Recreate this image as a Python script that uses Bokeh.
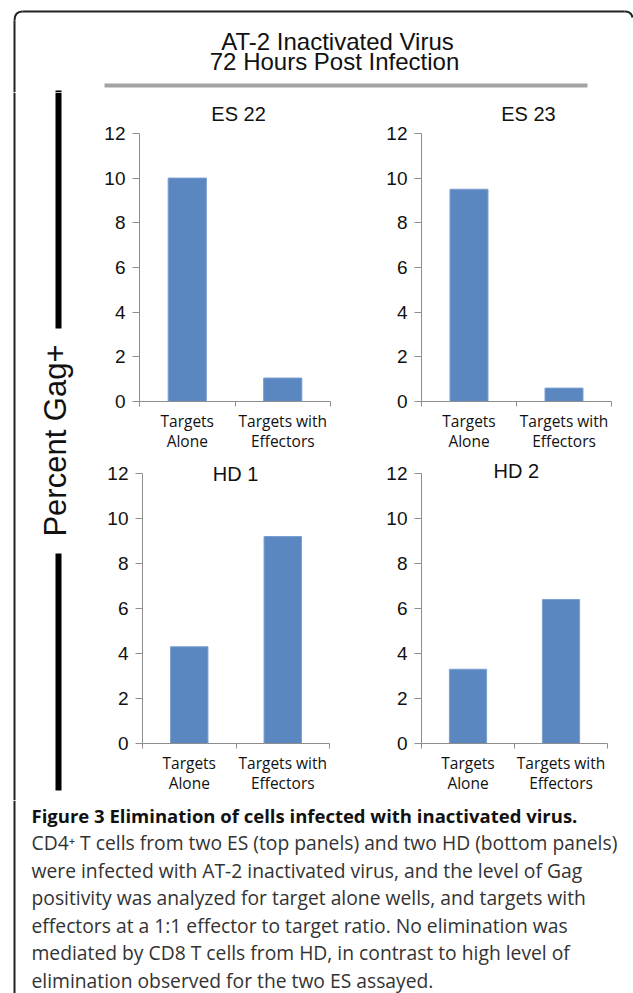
import math
from bokeh.plotting import figure
from bokeh.layouts import row, column
from bokeh.models import Range1d, FixedTicker, Label
from bokeh.core.properties import value
from bokeh.embed import file_html
from bokeh.resources import INLINE

# ---------------- data ----------------
categories = ["Targets\nAlone", "Targets with\nEffectors"]
panel_names = ["ES 22", "ES 23", "HD 1", "HD 2"]
es22_values = [10.0, 1.05]
es23_values = [9.5, 0.6]
hd1_values = [4.3, 9.2]
hd2_values = [3.3, 6.4]
y_ticks = [0, 2, 4, 6, 8, 10, 12]
y_max = 12
title_lines = ["AT-2 Inactivated Virus", "72 Hours Post Infection"]
y_axis_label = "Percent Gag+"
caption_title = "Figure 3 Elimination of cells infected with inactivated virus."
caption_lines = [
    "CD4\u207a T cells from two ES (top panels) and two HD (bottom panels)",
    "were infected with AT-2 inactivated virus, and the level of Gag",
    "positivity was analyzed for target alone wells, and targets with",
    "effectors at a 1:1 effector to target ratio. No elimination was",
    "mediated by CD8 T cells from HD, in contrast to high level of",
    "elimination observed for the two ES assayed.",
]

# ---------------- style ----------------
BAR = "#5b87c0"
BAR_EDGE = "#7a9fd0"
AXIS = "#8e8e8e"
FRAME = "#222222"
SANS = "Liberation Sans"
LABEL_FONT = "Open Sans"


def pixel_fig(x0, y0, w, h):
    p = figure(width=w, height=h, x_range=Range1d(x0, x0 + w), y_range=Range1d(y0 + h, y0),
               x_axis_type=None, y_axis_type=None, toolbar_location=None,
               output_backend="svg", min_border=0)
    p.outline_line_color = None
    p.background_fill_color = "white"
    p.border_fill_color = "white"
    return p


def panel(name, vals, w, h, left, frame_w, top, frame_h, axis_h, title_x, title_y):
    y_end = y_max * frame_h / axis_h
    p = figure(width=w, height=h, x_range=Range1d(0, len(categories)),
               y_range=Range1d(0, y_end), toolbar_location=None, output_backend="svg",
               min_border_left=left, min_border_right=w - left - frame_w,
               min_border_top=top, min_border_bottom=h - top - frame_h)
    p.outline_line_color = None
    p.xgrid.visible = False
    p.ygrid.visible = False
    xs = [i + 0.5 for i in range(len(categories))]
    p.vbar(x=xs, top=vals, bottom=0, width=0.4, fill_color=BAR, line_color=BAR_EDGE, line_width=1)

    ya = p.yaxis[0]
    ya.ticker = FixedTicker(ticks=y_ticks)
    ya.bounds = (0, y_max)
    ya.axis_line_color = AXIS
    ya.major_tick_line_color = AXIS
    ya.major_tick_out = 7
    ya.major_tick_in = 0
    ya.minor_tick_line_color = None
    ya.major_label_standoff = 7
    ya.major_label_text_font = SANS
    ya.major_label_text_font_size = "19px"
    ya.major_label_text_color = "#111111"

    xa = p.xaxis[0]
    xa.ticker = FixedTicker(ticks=xs, minor_ticks=list(range(len(categories) + 1)))
    xa.major_label_overrides = {x: c for x, c in zip(xs, categories)}
    xa.axis_line_color = AXIS
    xa.major_tick_line_color = None
    xa.major_tick_out = 0
    xa.major_tick_in = 0
    xa.minor_tick_line_color = AXIS
    xa.minor_tick_out = 5
    xa.minor_tick_in = 0
    xa.major_label_standoff = 3
    xa.major_label_text_font = LABEL_FONT
    xa.major_label_text_font_size = "15.5px"
    xa.major_label_text_line_height = 0.95
    xa.major_label_text_color = "#111111"

    p.add_layout(Label(x=title_x, y=title_y, text=name, text_align="center",
                       text_baseline="middle", text_font=SANS, text_font_size="20px",
                       text_color="#111111"))
    return p


# ---------------- header ----------------
hdr = pixel_fig(0, 0, 633, 92)
hdr.quadratic(x0=[14, 624], y0=[20, 11], x1=[22, 632], y1=[11, 17], cx=[14, 631], cy=[11, 11],
              line_color=FRAME, line_width=2)
hdr.segment(x0=[22, 14], y0=[11, 20], x1=[624, 14], y1=[11, 92], line_color=FRAME, line_width=2)
hdr.text(x=[337, 334], y=[40.5, 60.5], text=title_lines, text_align="center",
         text_baseline="middle", text_font=value(SANS), text_font_size="24px",
         text_color="#111111")
hdr.segment(x0=[104], y0=[85], x1=[587], y1=[85], line_color="#a3a3a3", line_width=4)
hdr.segment(x0=[58], y0=[90], x1=[58], y1=[92], line_color="black", line_width=6)

# ---------------- left strip ----------------
lft = pixel_fig(0, 92, 80, 708)
lft.segment(x0=[14], y0=[92], x1=[14], y1=[800], line_color=FRAME, line_width=2)
lft.segment(x0=[58, 58], y0=[92, 553], x1=[58, 58], y1=[328, 790], line_color="black", line_width=6)
lft.add_layout(Label(x=55, y=440, text=y_axis_label, angle=math.pi / 2, text_align="center",
                     text_baseline="middle", text_font=SANS, text_font_size="31px",
                     text_color="#111111"))

# ---------------- panels ----------------
p1 = panel(panel_names[0], es22_values, 280, 363, 59, 191, 8, 302, 269, 1.037, 12.89)
p2 = panel(panel_names[1], es23_values, 273, 363, 61, 190, 8, 302, 269, 1.126, 12.89)
p3 = panel(panel_names[2], hd1_values, 280, 345, 62, 187, 3, 285, 270, 0.995, 12.0)
p4 = panel(panel_names[3], hd2_values, 273, 345, 61, 186, 3, 285, 270, 1.02, 12.13)

# ---------------- caption ----------------
cap = pixel_fig(0, 800, 633, 193)
cap.segment(x0=[14], y0=[800], x1=[14], y1=[993], line_color=FRAME, line_width=2)
mid0, step = 814.8, 27.5
cap.text(x=[31], y=[mid0], text=[caption_title], text_font=value(LABEL_FONT),
         text_font_style="bold", text_font_size="18.5px", text_baseline="middle",
         text_color="#111111")
cap.text(x=[31] * len(caption_lines), y=[mid0 + step * (i + 1) for i in range(len(caption_lines))],
         text=caption_lines, text_font=value(LABEL_FONT), text_font_size="19.3px",
         text_baseline="middle", text_color="#333333")

layout = column(hdr, row(lft, column(row(p1, p2), row(p3, p4))), cap)
open("out.html", "w").write(file_html(layout, INLINE))
